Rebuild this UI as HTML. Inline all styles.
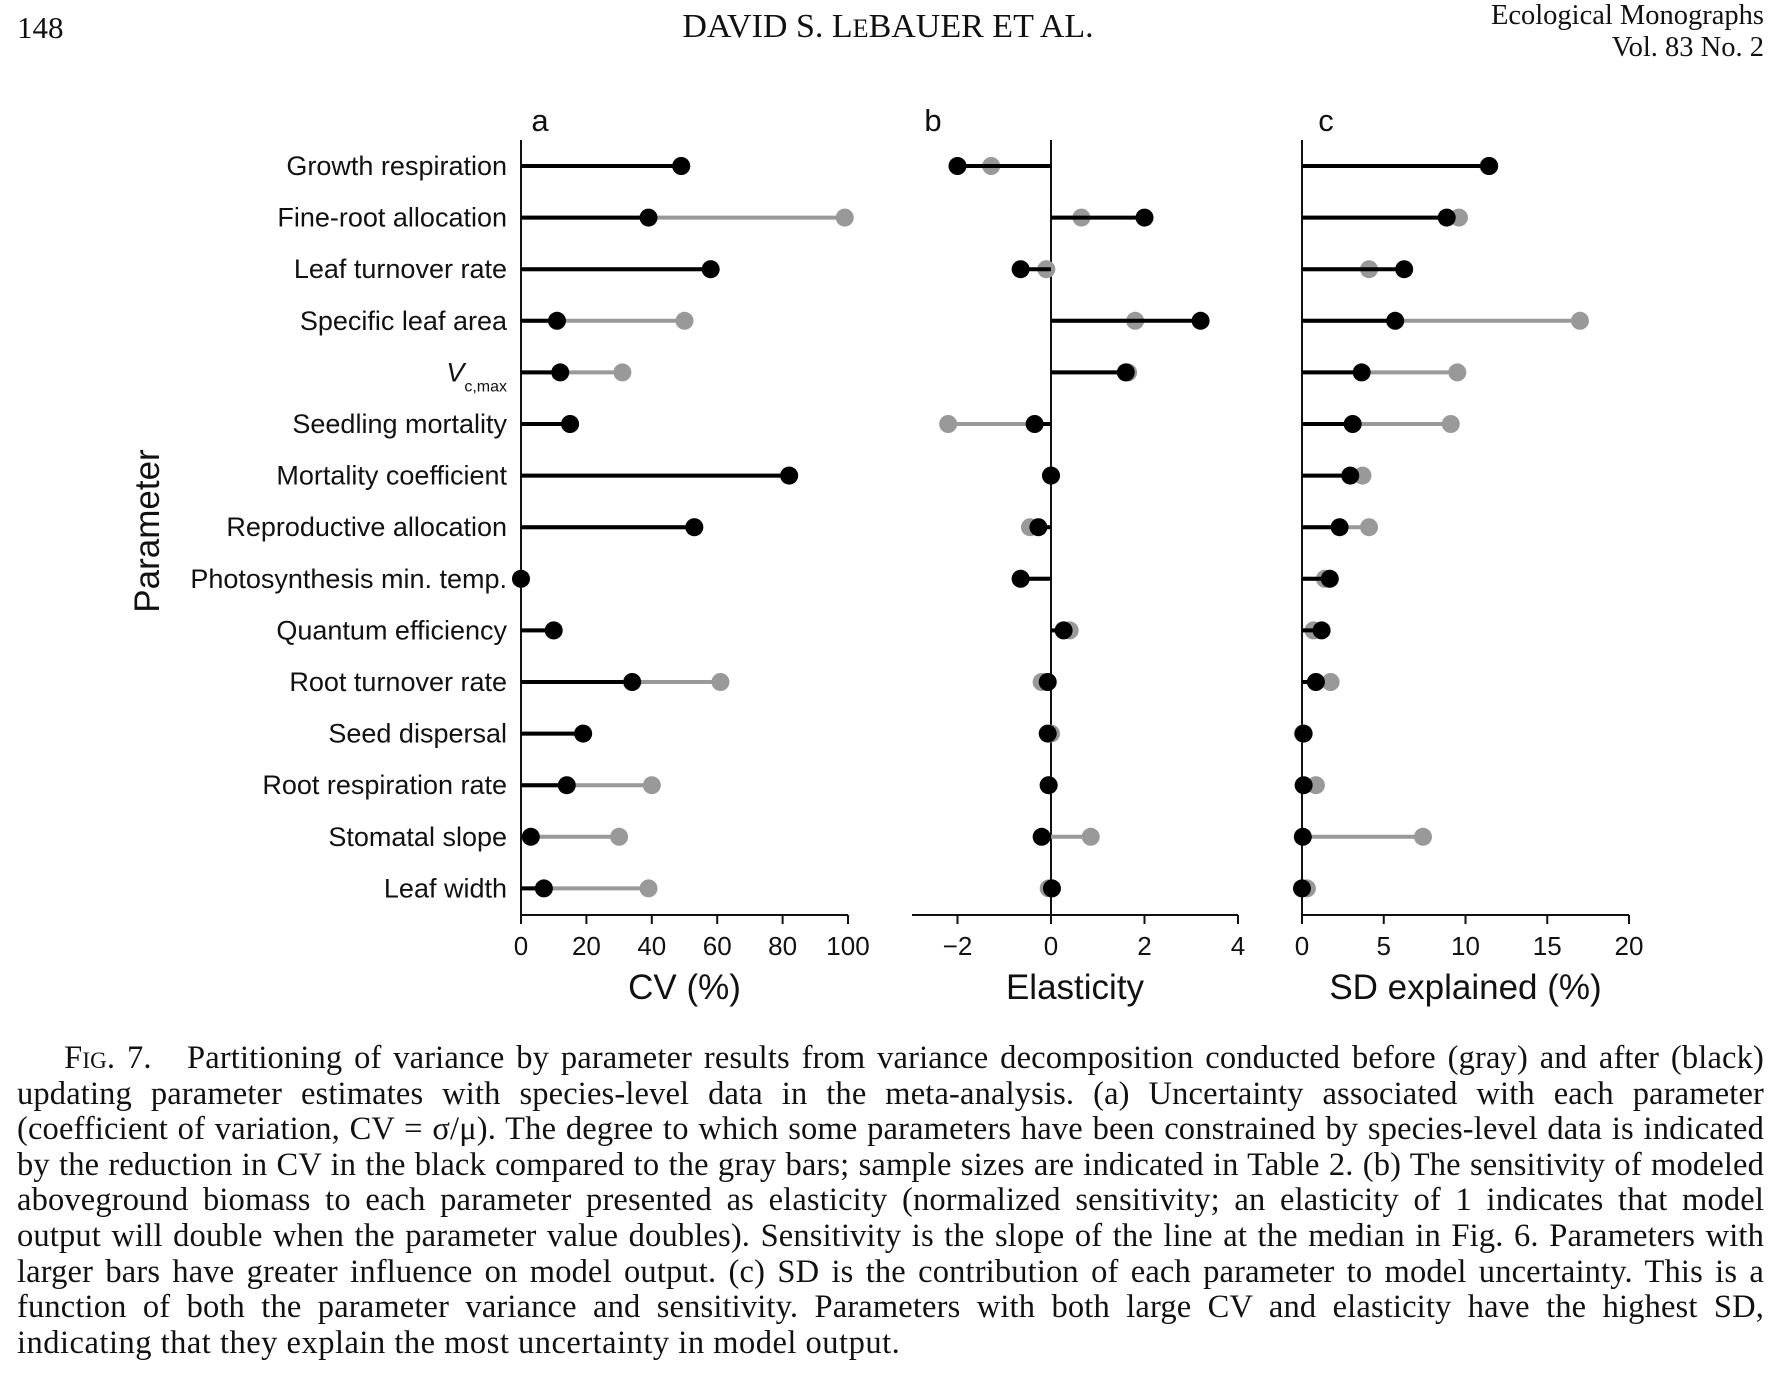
<!DOCTYPE html>
<html><head><meta charset="utf-8">
<style>
html,body{margin:0;padding:0;background:#fff;}
body{width:1790px;height:1380px;position:relative;overflow:hidden;font-family:"Liberation Serif",serif;color:#111;}
.hdr{position:absolute;font-size:28px;line-height:32px;}
.cap{position:absolute;left:17px;width:1747px;top:1041px;font-size:32.5px;line-height:35.6px;letter-spacing:0.15px;}
.cap div{text-align:justify;text-align-last:justify;white-space:nowrap;}
.cap div.last{text-align-last:left;letter-spacing:0.5px;}
.sc{font-variant:small-caps;}
svg{position:absolute;left:0;top:0;}
svg text{font-family:"Liberation Sans",sans-serif;fill:#111;}
</style></head><body>
<div class="hdr" style="left:17px;top:12px;font-size:31px;">148</div>
<div class="hdr" style="left:0;width:1776px;top:11px;text-align:center;font-size:34px;">DAVID S. L<span style="font-size:26px">E</span>BAUER ET AL.</div>
<div class="hdr" style="right:26px;top:0px;text-align:right;font-size:28.5px;">Ecological Monographs<br>Vol. 83 No. 2</div>

<svg id="chart" width="1790" height="1040"></svg>

<div class="cap">
<div>&nbsp;&nbsp;&nbsp;&nbsp;<span class="sc">Fig.</span> 7.&nbsp;&nbsp; Partitioning of variance by parameter results from variance decomposition conducted before (gray) and after (black)</div>
<div>updating parameter estimates with species-level data in the meta-analysis. (a) Uncertainty associated with each parameter</div>
<div>(coefficient of variation, CV = σ/μ). The degree to which some parameters have been constrained by species-level data is indicated</div>
<div>by the reduction in CV in the black compared to the gray bars; sample sizes are indicated in Table 2. (b) The sensitivity of modeled</div>
<div>aboveground biomass to each parameter presented as elasticity (normalized sensitivity; an elasticity of 1 indicates that model</div>
<div>output will double when the parameter value doubles). Sensitivity is the slope of the line at the median in Fig. 6. Parameters with</div>
<div>larger bars have greater influence on model output. (c) SD is the contribution of each parameter to model uncertainty. This is a</div>
<div>function of both the parameter variance and sensitivity. Parameters with both large CV and elasticity have the highest SD,</div>
<div class="last">indicating that they explain the most uncertainty in model output.</div>
</div>

<script>
const params = ["Growth respiration","Fine-root allocation","Leaf turnover rate","Specific leaf area","Vcmax","Seedling mortality","Mortality coefficient","Reproductive allocation","Photosynthesis min. temp.","Quantum efficiency","Root turnover rate","Seed dispersal","Root respiration rate","Stomatal slope","Leaf width"];
const cvGray  = [49,99,58,50,31,15,82,53,0,10,61,19,40,30,39];
const cvBlack = [49,39,58,11,12,15,82,53,0,10,34,19,14,3,7];
const elGray  = [-1.28,0.65,-0.1,1.8,1.65,-2.2,0,-0.45,-0.65,0.4,-0.2,0,-0.05,0.85,-0.05];
const elBlack = [-2.0,2.0,-0.65,3.2,1.6,-0.35,0,-0.27,-0.65,0.27,-0.07,-0.07,-0.05,-0.2,0.02];
const sdGray  = [11.4,9.6,4.1,17,9.5,9.1,3.7,4.1,1.4,0.7,1.75,0.05,0.85,7.4,0.3];
const sdBlack = [11.45,8.85,6.25,5.7,3.65,3.1,2.95,2.3,1.7,1.2,0.85,0.1,0.1,0.05,0];
const cvTicks = [0,20,40,60,80,100];
const elTicks = [-2,0,2,4];
const sdTicks = [0,5,10,15,20];

const svg = document.getElementById('chart');
const NS = 'http://www.w3.org/2000/svg';
function mk(tag, attrs){const e=document.createElementNS(NS,tag);for(const k in attrs)e.setAttribute(k,attrs[k]);svg.appendChild(e);return e;}
const y = i => 166 + i*51.6;
const axisY = 915;
const xCV = v => 521 + v*3.27;
const xEL = v => 1051 + v*46.75;
const xSD = v => 1302 + v*16.35;

function panel(key, sx, gray, black, ticks, axStart, axEnd, title, letter){
  let l = mk('line',{x1:sx(0),x2:sx(0),y1:140,y2:axisY,stroke:'#111','stroke-width':2});
  
  
  l = mk('line',{x1:axStart,x2:axEnd,y1:axisY,y2:axisY,stroke:'#111','stroke-width':2});
  
  
  ticks.forEach(t=>{
    const tk = mk('line',{x1:sx(t),x2:sx(t),y1:axisY,y2:axisY+9,stroke:'#111','stroke-width':2});
    
    
    const tx = mk('text',{x:sx(t),y:955,'font-size':26,'text-anchor':'middle'});
    tx.textContent = t<0 ? '\u2212'+Math.abs(t) : String(t);
    
    
  });
  const tt = mk('text',{x:(axStart+axEnd)/2,y:999,'font-size':35,'text-anchor':'middle'});
  tt.textContent = title;
  
  
  const lt = mk('text',{x:letter,y:131,'font-size':31,'text-anchor':'middle'});
  lt.textContent = key==='cv'?'a':key==='el'?'b':'c';
  
  
  params.forEach((p,i)=>{
    const gl = mk('line',{x1:sx(0),x2:sx(gray[i]),y1:y(i),y2:y(i),stroke:'#999','stroke-width':4});
    
    
    const gc = mk('circle',{cx:sx(gray[i]),cy:y(i),r:9,fill:'#999'});
    
    
  });
  params.forEach((p,i)=>{
    const bl = mk('line',{x1:sx(0),x2:sx(black[i]),y1:y(i),y2:y(i),stroke:'#000','stroke-width':4});
    
    
    const bc = mk('circle',{cx:sx(black[i]),cy:y(i),r:9,fill:'#000'});
    
    
  });
}
panel('cv', xCV, cvGray, cvBlack, cvTicks, 521, 848, 'CV (%)', 540);
panel('el', xEL, elGray, elBlack, elTicks, 912, 1238, 'Elasticity', 933);
panel('sd', xSD, sdGray, sdBlack, sdTicks, 1302, 1629, 'SD explained (%)', 1326);

params.forEach((p,i)=>{
  const t = mk('text',{x:507,y:y(i)+9,'font-size':27,'text-anchor':'end'});
  if(p==='Vcmax'){
    const a=document.createElementNS(NS,'tspan');a.setAttribute('font-style','italic');a.textContent='V';t.appendChild(a);
    const b=document.createElementNS(NS,'tspan');b.setAttribute('font-size','16');b.setAttribute('dy','10');b.textContent='c,max';t.appendChild(b);
  } else t.textContent = p;
  
  
});
const yt = mk('text',{x:0,y:0,'font-size':35,'text-anchor':'middle',transform:'translate(159,531) rotate(-90)'});
yt.textContent='Parameter';


</script>
</body></html>
